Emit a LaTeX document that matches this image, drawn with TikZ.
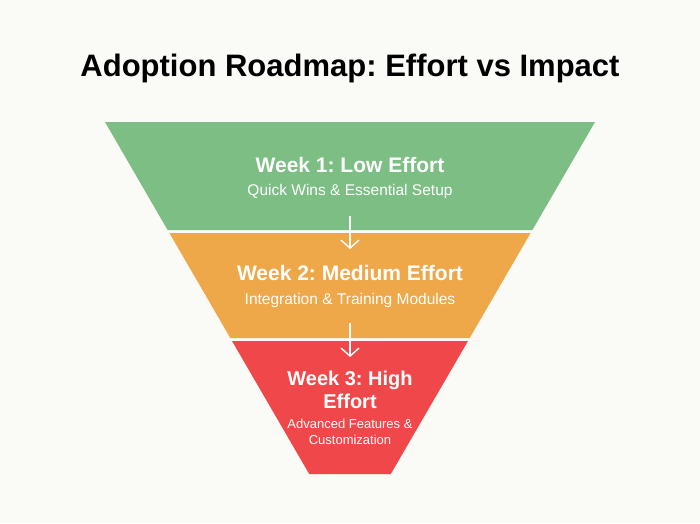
\documentclass[tikz,border=0pt]{standalone}
\usepackage{fontspec}
\setmainfont{Liberation Sans}
\usetikzlibrary{arrows.meta}
\frenchspacing

\definecolor{bgpaper}{HTML}{FAFAF7}
\definecolor{lowgreen}{HTML}{7DBE85}
\definecolor{midorange}{HTML}{EEA84A}
\definecolor{highred}{HTML}{F0484A}

\tikzset{
  band/.style={draw=none},
  weektitle/.style={text=white, font=\bfseries\fontsize{21}{24}\selectfont, align=center},
  weeksub/.style={text=white, font=\fontsize{15.5}{18}\selectfont, align=center},
  stepline/.style={draw=white, line width=1.4pt, -{Straight Barb[length=8pt,width=18pt,line width=1.4pt]}}
}

\begin{document}
\begin{tikzpicture}[x=1pt, y=-1pt]
  \fill[bgpaper] (0,0) rectangle (700,523);
  \useasboundingbox (0,0) rectangle (700,523);

  \node[font=\bfseries\fontsize{31}{35}\selectfont] (title) at (350,68) {Adoption Roadmap: Effort vs Impact};

  % Trichter-Stufen
  \fill[band, lowgreen] (105,122) -- (595,122) -- (532.4,230) -- (167.6,230) -- cycle;
  \fill[band, midorange] (169.4,233) -- (530.6,233) -- (469.7,338) -- (230.3,338) -- cycle;
  \fill[band, highred] (232,341) -- (468,341) -- (390.8,474) -- (309.2,474) -- cycle;

  % Texte
  \node[weektitle] (w1) at (350,165) {Week 1: Low Effort};
  \node[weeksub] (s1) at (350,191) {Quick Wins \& Essential Setup};
  \node[weektitle] (w2) at (350,273) {Week 2: Medium Effort};
  \node[weeksub] (s2) at (350,300) {Integration \& Training Modules};
  \node[weektitle, font=\bfseries\fontsize{20}{23}\selectfont] (w3) at (350,390) {Week 3: High\\Effort};
  \node[weeksub, font=\fontsize{13}{16}\selectfont] (s3) at (350,432) {Advanced Features \&\\Customization};

  % Pfeile
  \coordinate (a1) at (350,216);
  \coordinate (b1) at (350,249);
  \coordinate (a2) at (350,323);
  \coordinate (b2) at (350,357);
  \draw[stepline] (a1) -- (b1);
  \draw[stepline] (a2) -- (b2);
\end{tikzpicture}
\end{document}
